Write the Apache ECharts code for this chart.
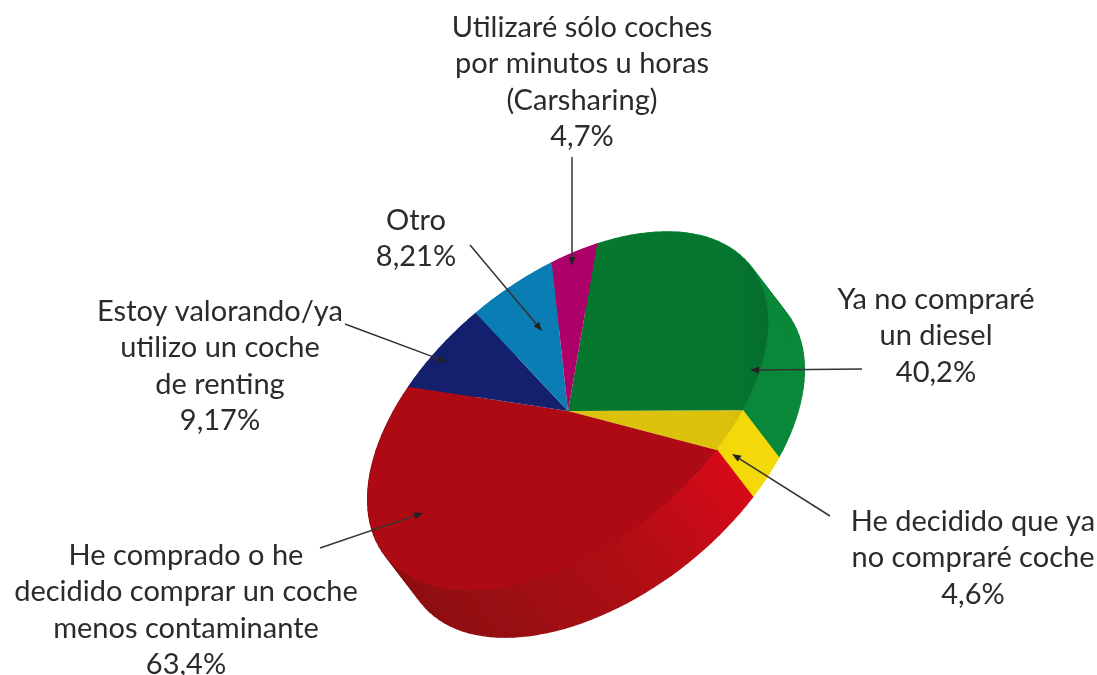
<!DOCTYPE html>
<html>
<head>
<meta charset="utf-8">
<script src="https://cdn.jsdelivr.net/npm/echarts@6/dist/echarts.min.js"></script>
<style>
  html, body { margin: 0; padding: 0; background: #fff; }
  #chart { width: 1097px; height: 675px; }
</style>
</head>
<body>
<div id="chart"></div>
<script>
const categories = [
  'Ya no compraré\nun diesel',
  'He decidido que ya\nno compraré coche',
  'He comprado o he\ndecidido comprar un coche\nmenos contaminante',
  'Estoy valorando/ya\nutilizo un coche\nde renting',
  'Otro',
  'Utilizaré sólo coches\npor minutos u horas\n(Carsharing)'
];
const values = [40.2, 4.6, 63.4, 9.17, 8.21, 4.7];

// styling and layout, kept apart from the data
const topColors = ['#05772f', '#dcc20a', '#ae0a14', '#141f6e', '#0b7db5', '#ad0068'];
const rimColors = ['#066e2e', '#cdae0c', '#a90a13', '#141f6e', '#0b7db5', '#ad0068'];
const wallColors = [
  ['#0a883a', '#0a883a'],
  ['#f3d90a', '#f3d90a'],
  ['#d50a18', '#ae0e14', '#980f12', '#8e0f10', '#8c0f10', '#8c0f10'],
  ['#141f6e', '#141f6e'],
  ['#0b7db5', '#0b7db5'],
  ['#ad0068', '#ad0068']
];
const labelAt = [[936, 281], [973, 503], [186, 537], [220, 293], [416, 202], [582, 9]];
const leaderFrom = [[862, 369], [830, 516], [320, 548], [345, 324], [470, 245], [572, 157]];
const leaderTo = [[750, 370], [732, 454], [423, 513], [447, 362], [542, 331], [572, 266]];

const cx = 568, cy = 411;       // centre of the top face
const rA = 233, rB = 134;       // ellipse radii
const tilt = 38.6 * Math.PI / 180;
const startAt = -57 * Math.PI / 180;
const depthX = 36, depthY = 47; // extrusion of the wall
const total = values.reduce((a, b) => a + b, 0);

function sliceAngles(i) {
  const before = values.slice(0, i).reduce((a, b) => a + b, 0);
  const start = startAt + before / total * Math.PI * 2;
  return [start, start + values[i] / total * Math.PI * 2];
}

function project(t) {
  const u = rA * Math.cos(t), v = rB * Math.sin(t);
  return [cx + u * Math.cos(tilt) + v * Math.sin(tilt), cy - u * Math.sin(tilt) + v * Math.cos(tilt)];
}

// one small quad per step, so the hull stays filled where the rim turns back
function renderWall(params, api) {
  const i = params.dataIndex;
  const [a0, a1] = sliceAngles(i);
  const n = Math.max(3, Math.ceil((a1 - a0) / 0.045));
  const children = [];
  for (let k = 0; k < n; k++) {
    const p = project(a0 + (a1 - a0) * k / n);
    const q = project(a0 + (a1 - a0) * (k + 1) / n);
    const color = echarts.color.lerp(k / n, wallColors[i]);
    children.push({
      type: 'polygon',
      shape: { points: [p, q, [q[0] + depthX, q[1] + depthY], [p[0] + depthX, p[1] + depthY]] },
      style: { fill: color, stroke: color, lineWidth: 1.4, lineJoin: 'round' }
    });
  }
  return { type: 'group', children: children };
}

function renderTop(params, api) {
  const i = params.dataIndex;
  const [a0, a1] = sliceAngles(i);
  const mid = 0.42;
  // the face darkens slightly towards the wall side
  const fill = new echarts.graphic.LinearGradient(
    0, 0, rA * Math.cos(mid), rA * Math.sin(mid),
    [{ offset: 0.78, color: topColors[i] }, { offset: 1, color: rimColors[i] }],
    true
  );
  return {
    type: 'sector',
    x: cx, y: cy,
    rotation: tilt,
    scaleX: 1,
    scaleY: rB / rA,
    shape: { cx: 0, cy: 0, r0: 0, r: rA, startAngle: a0, endAngle: a1, clockwise: true },
    style: { fill: fill }
  };
}

function renderLabel(params, api) {
  const i = params.dataIndex;
  const from = leaderFrom[i], to = leaderTo[i];
  const ang = Math.atan2(to[1] - from[1], to[0] - from[0]);
  const headL = 9, headW = 3.5;
  const bx = to[0] - headL * Math.cos(ang), by = to[1] - headL * Math.sin(ang);
  const txt = categories[i] + '\n' + String(api.value(0)).replace('.', ',') + '%';
  return {
    type: 'group',
    children: [
      {
        type: 'line',
        shape: { x1: from[0], y1: from[1], x2: bx, y2: by },
        style: { stroke: '#333', lineWidth: 1.5 }
      },
      {
        type: 'polygon',
        shape: { points: [
          to,
          [bx - headW * Math.sin(ang), by + headW * Math.cos(ang)],
          [bx + headW * Math.sin(ang), by - headW * Math.cos(ang)]
        ] },
        style: { fill: '#222' }
      },
      {
        type: 'text',
        x: labelAt[i][0], y: labelAt[i][1],
        style: {
          text: txt,
          align: 'center',
          verticalAlign: 'top',
          fill: '#2b2b2b',
          font: '29px Lato',
          lineHeight: 36.5
        }
      }
    ]
  };
}

const chart = echarts.init(document.getElementById('chart'), null, { renderer: 'canvas' });
const seriesData = values.map(v => [v]);
chart.setOption({
  animation: false,
  backgroundColor: '#fff',
  series: [
    { type: 'custom', coordinateSystem: 'none', silent: true, z: 1, data: seriesData, renderItem: renderWall },
    { type: 'custom', coordinateSystem: 'none', silent: true, z: 2, data: seriesData, renderItem: renderTop },
    { type: 'custom', coordinateSystem: 'none', silent: true, z: 3, data: seriesData, renderItem: renderLabel }
  ]
});
</script>
</body>
</html>
